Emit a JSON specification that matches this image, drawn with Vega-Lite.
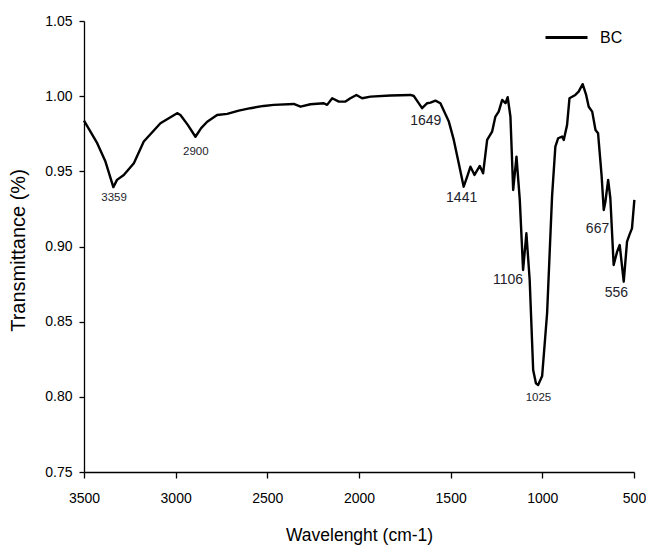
{
  "$schema": "https://vega.github.io/schema/vega-lite/v6.json",
  "width": 550,
  "height": 451,
  "autosize": {"type": "none"},
  "padding": {"left": 84, "top": 21, "right": 12, "bottom": 76},
  "background": "white",
  "config": {
    "view": {"stroke": null},
    "font": "Liberation Sans",
    "axis": {
      "grid": false,
      "domainColor": "black",
      "domainWidth": 1.3,
      "tickColor": "black",
      "tickWidth": 1.3,
      "labelColor": "black",
      "titleColor": "black",
      "labelFont": "Liberation Sans",
      "titleFont": "Liberation Sans",
      "titleFontWeight": "normal",
      "labelFontSize": 14
    },
    "legend": {"labelFont": "Liberation Sans"}
  },
  "datasets": {
    "spectrum": [
      {"wavenumber": 3500, "transmittance": 0.9837, "sample": "BC"},
      {"wavenumber": 3428, "transmittance": 0.9687, "sample": "BC"},
      {"wavenumber": 3383, "transmittance": 0.9565, "sample": "BC"},
      {"wavenumber": 3340, "transmittance": 0.9395, "sample": "BC"},
      {"wavenumber": 3320, "transmittance": 0.9443, "sample": "BC"},
      {"wavenumber": 3283, "transmittance": 0.9476, "sample": "BC"},
      {"wavenumber": 3228, "transmittance": 0.9554, "sample": "BC"},
      {"wavenumber": 3174, "transmittance": 0.9698, "sample": "BC"},
      {"wavenumber": 3083, "transmittance": 0.9820, "sample": "BC"},
      {"wavenumber": 2992, "transmittance": 0.9887, "sample": "BC"},
      {"wavenumber": 2974, "transmittance": 0.9875, "sample": "BC"},
      {"wavenumber": 2934, "transmittance": 0.9809, "sample": "BC"},
      {"wavenumber": 2892, "transmittance": 0.9730, "sample": "BC"},
      {"wavenumber": 2861, "transmittance": 0.9787, "sample": "BC"},
      {"wavenumber": 2828, "transmittance": 0.9830, "sample": "BC"},
      {"wavenumber": 2774, "transmittance": 0.9875, "sample": "BC"},
      {"wavenumber": 2719, "transmittance": 0.9882, "sample": "BC"},
      {"wavenumber": 2656, "transmittance": 0.9904, "sample": "BC"},
      {"wavenumber": 2592, "transmittance": 0.9920, "sample": "BC"},
      {"wavenumber": 2520, "transmittance": 0.9935, "sample": "BC"},
      {"wavenumber": 2465, "transmittance": 0.9942, "sample": "BC"},
      {"wavenumber": 2356, "transmittance": 0.9948, "sample": "BC"},
      {"wavenumber": 2319, "transmittance": 0.9930, "sample": "BC"},
      {"wavenumber": 2265, "transmittance": 0.9946, "sample": "BC"},
      {"wavenumber": 2192, "transmittance": 0.9953, "sample": "BC"},
      {"wavenumber": 2174, "transmittance": 0.9942, "sample": "BC"},
      {"wavenumber": 2146, "transmittance": 0.9986, "sample": "BC"},
      {"wavenumber": 2110, "transmittance": 0.9964, "sample": "BC"},
      {"wavenumber": 2074, "transmittance": 0.9964, "sample": "BC"},
      {"wavenumber": 2047, "transmittance": 0.9986, "sample": "BC"},
      {"wavenumber": 2014, "transmittance": 1.0008, "sample": "BC"},
      {"wavenumber": 1983, "transmittance": 0.9986, "sample": "BC"},
      {"wavenumber": 1937, "transmittance": 0.9997, "sample": "BC"},
      {"wavenumber": 1828, "transmittance": 1.0004, "sample": "BC"},
      {"wavenumber": 1719, "transmittance": 1.0008, "sample": "BC"},
      {"wavenumber": 1701, "transmittance": 1.0001, "sample": "BC"},
      {"wavenumber": 1680, "transmittance": 0.9964, "sample": "BC"},
      {"wavenumber": 1656, "transmittance": 0.9920, "sample": "BC"},
      {"wavenumber": 1628, "transmittance": 0.9953, "sample": "BC"},
      {"wavenumber": 1610, "transmittance": 0.9957, "sample": "BC"},
      {"wavenumber": 1583, "transmittance": 0.9970, "sample": "BC"},
      {"wavenumber": 1556, "transmittance": 0.9953, "sample": "BC"},
      {"wavenumber": 1510, "transmittance": 0.9831, "sample": "BC"},
      {"wavenumber": 1483, "transmittance": 0.9709, "sample": "BC"},
      {"wavenumber": 1456, "transmittance": 0.9554, "sample": "BC"},
      {"wavenumber": 1429, "transmittance": 0.9398, "sample": "BC"},
      {"wavenumber": 1410, "transmittance": 0.9465, "sample": "BC"},
      {"wavenumber": 1392, "transmittance": 0.9531, "sample": "BC"},
      {"wavenumber": 1370, "transmittance": 0.9476, "sample": "BC"},
      {"wavenumber": 1341, "transmittance": 0.9536, "sample": "BC"},
      {"wavenumber": 1323, "transmittance": 0.9487, "sample": "BC"},
      {"wavenumber": 1301, "transmittance": 0.9709, "sample": "BC"},
      {"wavenumber": 1274, "transmittance": 0.9764, "sample": "BC"},
      {"wavenumber": 1256, "transmittance": 0.9864, "sample": "BC"},
      {"wavenumber": 1238, "transmittance": 0.9897, "sample": "BC"},
      {"wavenumber": 1219, "transmittance": 0.9975, "sample": "BC"},
      {"wavenumber": 1201, "transmittance": 0.9953, "sample": "BC"},
      {"wavenumber": 1189, "transmittance": 0.9993, "sample": "BC"},
      {"wavenumber": 1174, "transmittance": 0.9864, "sample": "BC"},
      {"wavenumber": 1159, "transmittance": 0.9376, "sample": "BC"},
      {"wavenumber": 1141, "transmittance": 0.9598, "sample": "BC"},
      {"wavenumber": 1123, "transmittance": 0.9310, "sample": "BC"},
      {"wavenumber": 1105, "transmittance": 0.8844, "sample": "BC"},
      {"wavenumber": 1087, "transmittance": 0.9088, "sample": "BC"},
      {"wavenumber": 1069, "transmittance": 0.8777, "sample": "BC"},
      {"wavenumber": 1050, "transmittance": 0.8179, "sample": "BC"},
      {"wavenumber": 1035, "transmittance": 0.8090, "sample": "BC"},
      {"wavenumber": 1023, "transmittance": 0.8079, "sample": "BC"},
      {"wavenumber": 1001, "transmittance": 0.8139, "sample": "BC"},
      {"wavenumber": 974, "transmittance": 0.8556, "sample": "BC"},
      {"wavenumber": 947, "transmittance": 0.9332, "sample": "BC"},
      {"wavenumber": 929, "transmittance": 0.9664, "sample": "BC"},
      {"wavenumber": 914, "transmittance": 0.9720, "sample": "BC"},
      {"wavenumber": 892, "transmittance": 0.9731, "sample": "BC"},
      {"wavenumber": 883, "transmittance": 0.9709, "sample": "BC"},
      {"wavenumber": 865, "transmittance": 0.9809, "sample": "BC"},
      {"wavenumber": 852, "transmittance": 0.9986, "sample": "BC"},
      {"wavenumber": 820, "transmittance": 1.0008, "sample": "BC"},
      {"wavenumber": 802, "transmittance": 1.0030, "sample": "BC"},
      {"wavenumber": 780, "transmittance": 1.0080, "sample": "BC"},
      {"wavenumber": 761, "transmittance": 1.0008, "sample": "BC"},
      {"wavenumber": 747, "transmittance": 0.9930, "sample": "BC"},
      {"wavenumber": 728, "transmittance": 0.9897, "sample": "BC"},
      {"wavenumber": 710, "transmittance": 0.9775, "sample": "BC"},
      {"wavenumber": 696, "transmittance": 0.9753, "sample": "BC"},
      {"wavenumber": 677, "transmittance": 0.9476, "sample": "BC"},
      {"wavenumber": 665, "transmittance": 0.9243, "sample": "BC"},
      {"wavenumber": 656, "transmittance": 0.9298, "sample": "BC"},
      {"wavenumber": 641, "transmittance": 0.9443, "sample": "BC"},
      {"wavenumber": 629, "transmittance": 0.9321, "sample": "BC"},
      {"wavenumber": 611, "transmittance": 0.8877, "sample": "BC"},
      {"wavenumber": 592, "transmittance": 0.8966, "sample": "BC"},
      {"wavenumber": 578, "transmittance": 0.9010, "sample": "BC"},
      {"wavenumber": 556, "transmittance": 0.8766, "sample": "BC"},
      {"wavenumber": 538, "transmittance": 0.9032, "sample": "BC"},
      {"wavenumber": 525, "transmittance": 0.9077, "sample": "BC"},
      {"wavenumber": 511, "transmittance": 0.9121, "sample": "BC"},
      {"wavenumber": 498, "transmittance": 0.9310, "sample": "BC"}
    ],
    "labelsSmall": [
      {"wavenumber": 3336, "transmittance": 0.9323, "label": "3359"},
      {"wavenumber": 2890, "transmittance": 0.9631, "label": "2900"},
      {"wavenumber": 1021, "transmittance": 0.7990, "label": "1025"}
    ],
    "labelsLarge": [
      {"wavenumber": 1636, "transmittance": 0.9837, "label": "1649"},
      {"wavenumber": 1440, "transmittance": 0.9321, "label": "1441"},
      {"wavenumber": 1187, "transmittance": 0.8775, "label": "1106"},
      {"wavenumber": 699, "transmittance": 0.9115, "label": "667"},
      {"wavenumber": 596, "transmittance": 0.8692, "label": "556"}
    ]
  },
  "encoding": {
    "x": {
      "field": "wavenumber",
      "type": "quantitative",
      "scale": {"domain": [500, 3500], "reverse": true, "nice": false, "zero": false},
      "axis": {
        "values": [3500, 3000, 2500, 2000, 1500, 1000, 500],
        "format": "d",
        "tickSize": 6,
        "labelPadding": 13,
        "labelFlush": false,
        "labelOverlap": false,
        "title": "Wavelenght (cm-1)",
        "titleFontSize": 17.5,
        "titleY": 63,
        "titleBaseline": "middle"
      }
    },
    "y": {
      "field": "transmittance",
      "type": "quantitative",
      "scale": {"domain": [0.75, 1.05], "nice": false, "zero": false},
      "axis": {
        "values": [0.75, 0.8, 0.85, 0.9, 0.95, 1.0, 1.05],
        "format": ".2f",
        "tickSize": 5,
        "labelPadding": 7,
        "labelFlush": false,
        "labelOverlap": false,
        "title": "Transmittance (%)",
        "titleFontSize": 20,
        "titleAngle": -90,
        "titleX": -65.5,
        "titleY": 229,
        "titleAlign": "center",
        "titleBaseline": "middle"
      }
    }
  },
  "layer": [
    {
      "data": {"name": "spectrum"},
      "mark": {"type": "line", "strokeWidth": 2.4, "strokeJoin": "round"},
      "encoding": {
        "color": {
          "field": "sample",
          "type": "nominal",
          "scale": {"range": ["black"]},
          "legend": {
            "title": null,
            "orient": "none",
            "legendX": 460,
            "legendY": -6,
            "padding": 0,
            "symbolType": "stroke",
            "symbolSize": 1764,
            "symbolStrokeWidth": 3,
            "labelOffset": 11,
            "labelFontSize": 16,
            "labelColor": "black"
          }
        }
      }
    },
    {
      "data": {"name": "labelsSmall"},
      "mark": {"type": "text", "fontSize": 11.5, "color": "#1d1d2b", "baseline": "middle", "align": "center"},
      "encoding": {"text": {"field": "label", "type": "nominal"}}
    },
    {
      "data": {"name": "labelsLarge"},
      "mark": {"type": "text", "fontSize": 14, "color": "#1d1d2b", "baseline": "middle", "align": "center"},
      "encoding": {"text": {"field": "label", "type": "nominal"}}
    }
  ]
}
